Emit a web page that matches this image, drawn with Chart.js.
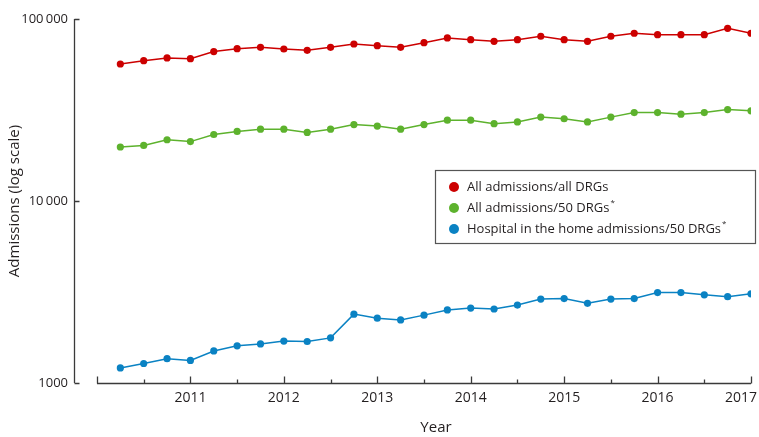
<!DOCTYPE html>
<html>
<head>
<meta charset="utf-8">
<script src="https://cdn.jsdelivr.net/npm/chart.js@4/dist/chart.umd.min.js"></script>
<style>
  html, body { margin: 0; padding: 0; background: #fff; }
  #wrap { width: 759px; height: 437px; position: relative; }
</style>
</head>
<body>
<div id="wrap"><canvas id="c"></canvas></div>
<script>
// Quarter ends (fractional years), 2010 Q2 .. 2017 Q1
const quarters = [
  2010.25, 2010.5, 2010.75, 2011.0, 2011.25, 2011.5, 2011.75, 2012.0,
  2012.25, 2012.5, 2012.75, 2013.0, 2013.25, 2013.5, 2013.75, 2014.0,
  2014.25, 2014.5, 2014.75, 2015.0, 2015.25, 2015.5, 2015.75, 2016.0,
  2016.25, 2016.5, 2016.75, 2017.0
];

const allAdmissionsAllDRGs = [
  56600, 59000, 61100, 60500, 66200, 68700, 69900, 68400,
  67300, 69900, 72900, 71400, 69900, 74100, 78700, 77000,
  75400, 77000, 80400, 77000, 75400, 80400, 83500, 82000,
  82000, 82000, 88900, 83500
];

const allAdmissions50DRGs = [
  19800, 20200, 21700, 21200, 23200, 24100, 24800, 24800,
  23800, 24800, 26300, 25800, 24800, 26300, 27800, 27800,
  26600, 27200, 28900, 28300, 27200, 28900, 30600, 30600,
  30000, 30600, 31800, 31300
];

const hithAdmissions50DRGs = [
  1210, 1280, 1360, 1330, 1500, 1600, 1640, 1700,
  1690, 1770, 2390, 2270, 2220, 2360, 2520, 2580,
  2550, 2680, 2890, 2910, 2740, 2890, 2910, 3140,
  3140, 3050, 2980, 3090
];

const seriesNames = [
  'All admissions/all DRGs',
  'All admissions/50 DRGs',
  'Hospital in the home admissions/50 DRGs'
];
const seriesNotes = ['', '*', '*'];
const seriesColors = ['#cc0000', '#5db22d', '#0a82c3'];

const yTickValues = [1000, 10000, 100000];
const xYearTicks = [2011, 2012, 2013, 2014, 2015, 2016, 2017];
const xAxisStart = 2010;
const xAxisEnd = 2017;

const FONT = '"Open Sans", "DejaVu Sans", sans-serif';
const TEXT = '#231f20';
const AXIS = '#3a3a3a';

function toPoints(vals) {
  return vals.map((v, i) => ({ x: quarters[i], y: v }));
}

function fmtThousands(v) {
  return String(v).length > 4
    ? String(v).replace(/\B(?=(\d{3})+(?!\d))/g, '\u2009')
    : String(v);
}

// Axis lines, inward tick marks, year labels, axis titles and the boxed key
const decor = {
  id: 'decor',
  afterDraw(chart) {
    const { ctx, chartArea, scales: { x, y } } = chart;
    const W = chart.width;
    ctx.save();
    ctx.strokeStyle = AXIS;
    ctx.lineWidth = 1.3;

    // vertical axis with ticks pointing into the plot
    const ax = Math.round(chartArea.left) + 0.5;
    const yTop = y.getPixelForValue(yTickValues[yTickValues.length - 1]);
    const yBot = y.getPixelForValue(yTickValues[0]);
    ctx.beginPath();
    ctx.moveTo(ax, yTop);
    ctx.lineTo(ax, yBot);
    yTickValues.forEach(v => {
      const py = Math.round(y.getPixelForValue(v)) + 0.5;
      ctx.moveTo(ax, py);
      ctx.lineTo(ax + 5, py);
    });
    ctx.stroke();

    // horizontal axis, major ticks at years, minor at half years
    const by = Math.round(chartArea.bottom) + 0.5;
    const x0 = x.getPixelForValue(xAxisStart);
    const x1 = x.getPixelForValue(xAxisEnd);
    ctx.beginPath();
    ctx.moveTo(x0, by);
    ctx.lineTo(x1, by);
    for (let t = xAxisStart; t <= xAxisEnd + 0.001; t += 0.5) {
      const px = Math.round(x.getPixelForValue(t)) + 0.5;
      const major = Math.abs(t - Math.round(t)) < 0.01;
      ctx.moveTo(px, by);
      ctx.lineTo(px, by - (major ? 7 : 4));
    }
    ctx.stroke();

    // year labels, kept inside the canvas at the right edge
    ctx.fillStyle = TEXT;
    ctx.font = '14px ' + FONT;
    ctx.textAlign = 'center';
    ctx.textBaseline = 'middle';
    xYearTicks.forEach(v => {
      const label = String(v);
      const w = ctx.measureText(label).width;
      let cx = x.getPixelForValue(v);
      cx = Math.min(cx, W - 2 - w / 2);
      ctx.fillText(label, cx, by + 15);
    });

    // axis titles
    ctx.font = '15px ' + FONT;
    ctx.fillText('Year', (x0 + x1) / 2 + 12, 428);
    ctx.save();
    ctx.translate(15, (yTop + yBot) / 2);
    ctx.rotate(-Math.PI / 2);
    ctx.fillText('Admissions (log scale)', 0, 0);
    ctx.restore();

    // key
    const bx = 435.5, bw = 320, byTop = 170.5, bh = 73;
    ctx.lineWidth = 1.2;
    ctx.strokeStyle = '#555';
    ctx.strokeRect(bx, byTop, bw, bh);
    const rowY = [187, 208, 229];
    chart.data.datasets.forEach((ds, i) => {
      ctx.beginPath();
      ctx.fillStyle = ds.borderColor;
      ctx.arc(454, rowY[i], 5, 0, Math.PI * 2);
      ctx.fill();
      ctx.fillStyle = TEXT;
      ctx.font = '13px ' + FONT;
      ctx.textAlign = 'left';
      ctx.textBaseline = 'middle';
      ctx.fillText(ds.label, 467, rowY[i]);
      if (seriesNotes[i]) {
        const w = ctx.measureText(ds.label).width;
        ctx.font = '8px ' + FONT;
        ctx.fillText(seriesNotes[i], 467 + w + 1, rowY[i] - 5);
      }
    });
    ctx.restore();
  }
};

new Chart(document.getElementById('c'), {
  type: 'line',
  data: {
    datasets: [allAdmissionsAllDRGs, allAdmissions50DRGs, hithAdmissions50DRGs].map((vals, i) => ({
      label: seriesNames[i],
      data: toPoints(vals),
      borderColor: seriesColors[i],
      backgroundColor: seriesColors[i],
      pointBackgroundColor: seriesColors[i],
      pointBorderWidth: 0,
      pointRadius: 3.6,
      borderWidth: 1.5,
      tension: 0,
      fill: false
    }))
  },
  options: {
    responsive: true,
    maintainAspectRatio: false,
    animation: false,
    events: [],
    layout: { padding: { top: 19, right: 8, left: 0, bottom: 0 } },
    plugins: {
      legend: { display: false },
      tooltip: { enabled: false },
      title: { display: false }
    },
    scales: {
      x: {
        type: 'linear',
        min: 2009.754,
        max: xAxisEnd,
        grid: { display: false, drawTicks: false },
        border: { display: false },
        afterBuildTicks(scale) {
          scale.ticks = xYearTicks.map(v => ({ value: v }));
        },
        afterFit(scale) {
          scale.height = 54;
          scale.paddingLeft = 0;
          scale.paddingRight = 0;
        },
        ticks: { display: false }
      },
      y: {
        type: 'logarithmic',
        min: 1000,
        max: 100000,
        grid: { display: false, drawTicks: false },
        border: { display: false },
        afterBuildTicks(scale) {
          scale.ticks = yTickValues.map(v => ({ value: v }));
        },
        afterFit(scale) {
          scale.width = 74;
          scale.paddingTop = 0;
          scale.paddingBottom = 0;
        },
        ticks: {
          padding: 6,
          color: TEXT,
          font: { family: FONT, size: 13 },
          callback: v => fmtThousands(v)
        }
      }
    }
  },
  plugins: [decor]
});
</script>
</body>
</html>
